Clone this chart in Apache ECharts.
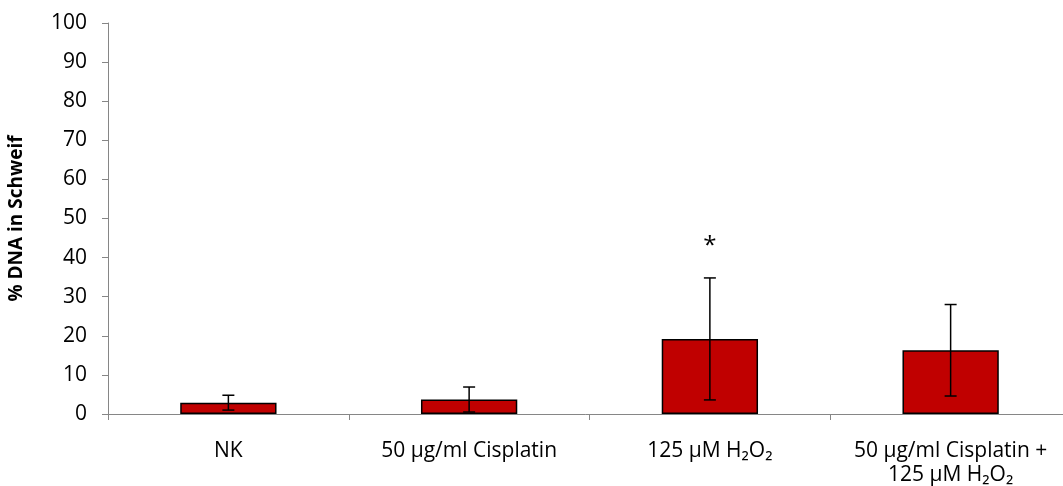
<!DOCTYPE html>
<html>
<head>
<meta charset="utf-8">
<script src="https://cdn.jsdelivr.net/npm/echarts@6/dist/echarts.min.js"></script>
<style>
  html, body { margin: 0; padding: 0; background: #fff; }
  #main { width: 1063px; height: 486px; }
</style>
</head>
<body>
<div id="main"></div>
<script>
var categories = ['NK', '50 µg/ml Cisplatin', '125 µM H₂O₂', '50 µg/ml Cisplatin +\n125 µM H₂O₂'];
var means = [2.9, 3.7, 19.2, 16.3];
var errors = [1.9, 3.2, 15.6, 11.7];
var marks = ['', '', '*', ''];
var yTicks = [0, 10, 20, 30, 40, 50, 60, 70, 80, 90, 100];

var font = '"Open Sans", "Liberation Sans", sans-serif';

var errData = means.map(function (m, i) {
    return [i, m - errors[i], m + errors[i], marks[i]];
});

var myChart = echarts.init(document.getElementById('main'));
var option = {
    animation: false,
    grid: {
        left: 108,
        width: 963,
        top: 23,
        bottom: 72,
        outerBoundsMode: 'none',
        containLabel: false
    },
    xAxis: {
        type: 'category',
        data: categories,
        boundaryGap: true,
        axisLine: { lineStyle: { color: '#868686', width: 1 } },
        axisTick: { show: true, alignWithLabel: false, length: 6, lineStyle: { color: '#868686' } },
        axisLabel: {
            color: '#000',
            fontFamily: font,
            fontSize: 21,
            lineHeight: 24,
            margin: 25,
            interval: 0
        }
    },
    yAxis: {
        type: 'value',
        min: yTicks[0],
        max: yTicks[yTicks.length - 1],
        interval: 10,
        name: '% DNA in Schweif',
        nameLocation: 'middle',
        nameGap: 82,
        nameTextStyle: {
            color: '#000',
            fontFamily: font,
            fontSize: 19,
            fontWeight: 'bold'
        },
        axisLine: { show: true, lineStyle: { color: '#868686', width: 1 } },
        axisTick: { show: true, length: 6, lineStyle: { color: '#868686' } },
        axisLabel: {
            color: '#000',
            fontFamily: font,
            fontSize: 21,
            margin: 21
        },
        splitLine: { show: false }
    },
    series: [
        {
            name: 'Mittelwert',
            type: 'bar',
            data: means,
            barWidth: '40%',
            itemStyle: {
                color: '#C00000',
                borderColor: '#000',
                borderWidth: 1.5
            }
        },
        {
            name: 'Fehler',
            type: 'custom',
            data: errData,
            z: 10,
            renderItem: function (params, api) {
                var x = api.value(0);
                var lo = api.coord([x, api.value(1)]);
                var hi = api.coord([x, api.value(2)]);
                var cap = 6;
                var style = { stroke: '#000', lineWidth: 1.5 };
                var children = [
                    { type: 'line', shape: { x1: hi[0], y1: hi[1], x2: lo[0], y2: lo[1] }, style: style },
                    { type: 'line', shape: { x1: hi[0] - cap, y1: hi[1], x2: hi[0] + cap, y2: hi[1] }, style: style },
                    { type: 'line', shape: { x1: lo[0] - cap, y1: lo[1], x2: lo[0] + cap, y2: lo[1] }, style: style }
                ];
                var mark = api.value(3);
                if (mark) {
                    children.push({
                        type: 'text',
                        x: hi[0],
                        y: hi[1] - 32,
                        style: {
                            text: mark,
                            fill: '#000',
                            font: '24px ' + font,
                            align: 'center',
                            verticalAlign: 'middle'
                        }
                    });
                }
                return { type: 'group', children: children };
            }
        }
    ]
};
myChart.setOption(option);
</script>
</body>
</html>
